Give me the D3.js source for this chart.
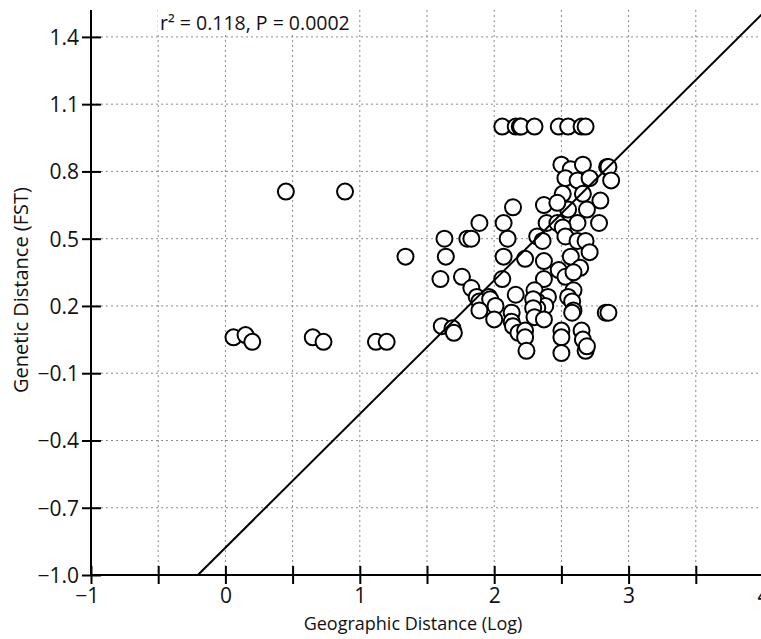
<!DOCTYPE html>
<html>
<head>
<meta charset="utf-8">
<script src="https://cdn.jsdelivr.net/npm/d3@7"></script>
<style>
  body { margin: 0; background: #fff; }
  svg text { font-family: "Open Sans", "Noto Sans", sans-serif; fill: #111; }
  .grid line { stroke: #8a8a8a; stroke-width: 1; stroke-dasharray: 2,3; }
  .axis path, .axis line { stroke: #000; stroke-width: 2; }
</style>
</head>
<body>
<div id="chart"></div>
<script>
// tick values
var xTicks = [-1, 0, 1, 2, 3, 4],
    xMinor = [-1, -0.5, 0, 0.5, 1, 1.5, 2, 2.5, 3, 3.5, 4],
    yTicks = [-1.0, -0.7, -0.4, -0.1, 0.2, 0.5, 0.8, 1.1, 1.4];

// regression fit (FST = slope * log distance + intercept)
var fitSlope = 0.596,
    fitIntercept = -0.878,
    statLabel = "r\u00b2 = 0.118, P = 0.0002";

// geographic distance (log) and genetic distance (FST)
var logDist = [
    0.06, 0.15, 0.20, 0.45, 0.65, 0.73, 0.89, 1.12, 1.20, 1.34,
    1.61, 1.69, 1.70, 1.63, 1.64, 1.60,
    2.06, 2.16, 2.19, 2.20, 2.30, 2.48, 2.55, 2.65, 2.68,
    2.50, 2.57, 2.66, 2.53, 2.62, 2.71, 2.84, 2.85, 2.87,
    2.51, 2.66, 2.79, 2.55, 2.69, 2.37, 2.47, 2.14, 2.07, 1.89,
    2.39, 2.47, 2.62, 2.78, 2.51,
    1.80, 1.83, 2.10, 2.32, 2.36, 2.53, 2.62, 2.68,
    2.07, 2.23, 2.37, 2.57, 2.71, 2.64, 2.48,
    1.76, 2.06, 2.37, 2.53, 2.59,
    1.83, 1.87, 2.16, 2.30, 2.40, 2.59, 2.55, 1.96,
    1.89, 1.97, 2.01, 1.89, 2.32, 2.38, 2.32, 2.58, 2.59, 2.58,
    2.83, 2.85, 2.29, 2.29,
    2.00, 2.13, 2.13, 2.30, 2.37,
    2.14, 2.18, 2.23, 2.23, 2.50, 2.65, 2.50, 2.66,
    2.24, 2.50, 2.68, 2.69
];
var fst = [
    0.06, 0.07, 0.04, 0.71, 0.06, 0.04, 0.71, 0.04, 0.04, 0.42,
    0.11, 0.10, 0.08, 0.50, 0.42, 0.32,
    1.00, 1.00, 1.00, 1.00, 1.00, 1.00, 1.00, 1.00, 1.00,
    0.83, 0.81, 0.83, 0.77, 0.76, 0.77, 0.82, 0.82, 0.76,
    0.70, 0.70, 0.67, 0.63, 0.63, 0.65, 0.66, 0.64, 0.57, 0.57,
    0.57, 0.57, 0.57, 0.57, 0.55,
    0.50, 0.50, 0.50, 0.51, 0.49, 0.51, 0.49, 0.49,
    0.42, 0.41, 0.40, 0.42, 0.44, 0.37, 0.36,
    0.33, 0.32, 0.32, 0.33, 0.35,
    0.28, 0.24, 0.25, 0.27, 0.24, 0.27, 0.24, 0.24,
    0.22, 0.23, 0.20, 0.18, 0.22, 0.20, 0.19, 0.22, 0.18, 0.17,
    0.17, 0.17, 0.23, 0.19,
    0.14, 0.17, 0.13, 0.15, 0.14,
    0.11, 0.08, 0.09, 0.06, 0.09, 0.09, 0.06, 0.05,
    0.00, -0.01, 0.00, 0.02
];

var points = logDist.map(function (d, i) { return {x: d, y: fst[i]}; });

var W = 761, H = 639,
    x = d3.scaleLinear().domain([-1, 4]).range([91, 763]),
    y = d3.scaleLinear().domain([-1, 1.52]).range([575, 10]);

var svg = d3.select("#chart").append("svg")
    .attr("width", W)
    .attr("height", H);

// dotted grid
var grid = svg.append("g").attr("class", "grid");
grid.selectAll(".vg")
    .data(xMinor.filter(function (d) { return d > -1; }))
    .enter().append("line")
    .attr("x1", function (d) { return x(d); })
    .attr("x2", function (d) { return x(d); })
    .attr("y1", y.range()[1])
    .attr("y2", y.range()[0]);
grid.selectAll(".hg")
    .data(yTicks.filter(function (d) { return d > -1; }))
    .enter().append("line")
    .attr("x1", x(-1))
    .attr("x2", W)
    .attr("y1", function (d) { return y(d); })
    .attr("y2", function (d) { return y(d); });

// points
svg.append("g").selectAll("circle")
    .data(points)
    .enter().append("circle")
    .attr("cx", function (d) { return x(d.x); })
    .attr("cy", function (d) { return y(d.y); })
    .attr("r", 8)
    .attr("fill", "#fff")
    .attr("stroke", "#000")
    .attr("stroke-width", 2);

// regression line, starting where it meets the bottom axis
var x0 = (-1 - fitIntercept) / fitSlope;
svg.append("path")
    .datum([x0, 4])
    .attr("fill", "none")
    .attr("stroke", "#000")
    .attr("stroke-width", 2)
    .attr("d", d3.line()
        .x(function (d) { return x(d); })
        .y(function (d) { return y(fitSlope * d + fitIntercept); }));

// axes
var fmtY = function (d) { return d3.format(".1f")(d).replace("-", "\u2212"); };
var fmtX = function (d) { return String(d).replace("-", "\u2212"); };

var yAxis = svg.append("g")
    .attr("class", "axis")
    .attr("transform", "translate(" + x(-1) + ",0)")
    .call(d3.axisLeft(y).tickValues(yTicks).tickFormat(fmtY).tickSize(9).tickPadding(3).tickSizeOuter(0));
yAxis.select(".domain").attr("d", "M0," + y.range()[1] + "V" + y.range()[0]);
yAxis.selectAll(".tick line").attr("x1", -9).attr("x2", 10);
yAxis.selectAll(".tick text").style("font-size", "21px").attr("dy", "0.35em");

var xAxis = svg.append("g")
    .attr("class", "axis")
    .attr("transform", "translate(0," + y(-1) + ")")
    .call(d3.axisBottom(x).tickValues(xMinor).tickFormat(function (d) {
        return xTicks.indexOf(d) >= 0 ? fmtX(d) : "";
    }).tickSize(9).tickPadding(4).tickSizeOuter(0));
xAxis.select(".domain").attr("d", "M" + x(-1) + ",0H" + W);
xAxis.selectAll(".tick line").attr("y1", -9).attr("y2", 9);
xAxis.selectAll(".tick text").style("font-size", "21px");
xAxis.selectAll(".tick").filter(function (d) { return d === -1; }).select("text").attr("dx", "-0.2em");

// axis titles
svg.append("text")
    .attr("x", 413)
    .attr("y", 630)
    .attr("text-anchor", "middle")
    .style("font-size", "18px")
    .text("Geographic Distance (Log)");

svg.append("text")
    .attr("transform", "translate(28,290) rotate(-90)")
    .attr("text-anchor", "middle")
    .style("font-size", "20px")
    .text("Genetic Distance (FST)");

// stat annotation
svg.append("rect")
    .attr("x", 158).attr("y", 10)
    .attr("width", 200).attr("height", 25)
    .attr("fill", "#fff");
svg.append("text")
    .attr("x", 160)
    .attr("y", 30)
    .style("font-size", "19.5px")
    .text(statLabel);
</script>
</body>
</html>
